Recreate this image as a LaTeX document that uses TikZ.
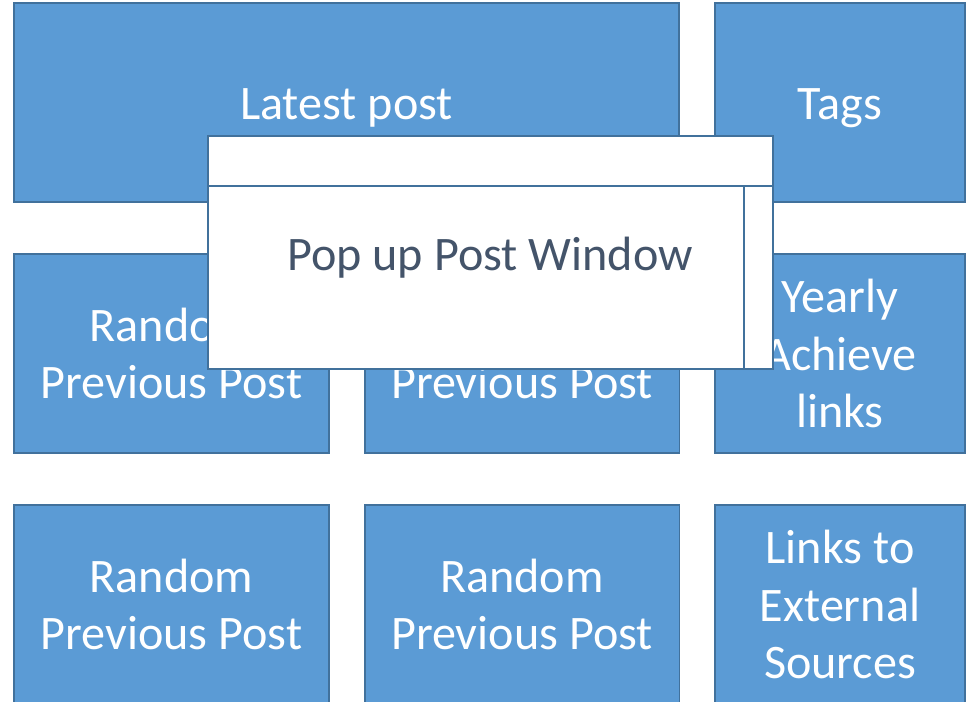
\documentclass[tikz,border=0pt]{standalone}
\usepackage{fontspec}
\setmainfont{Carlito}
\usepackage{xcolor}
\definecolor{BoxFill}{RGB}{91,155,213}
\definecolor{BoxLine}{RGB}{65,113,156}
\definecolor{PopText}{RGB}{68,84,106}
\usepackage{tikz}
\tikzstyle{Block}=[rectangle,draw=BoxLine,fill=BoxFill,line width=1.1pt,
text=white,align=center,font=\fontsize{27.4}{32.5}\selectfont]
\tikzstyle{Wide}=[Block,minimum width=13.3cm,minimum height=3.98cm]
\tikzstyle{Cell}=[Block,minimum width=6.3cm,minimum height=3.98cm]
\tikzstyle{Side}=[Block,minimum width=5cm,minimum height=3.98cm]
\tikzstyle{Popup}=[draw=BoxLine,fill=white,line width=1.1pt]

\begin{document}
\begin{tikzpicture}[x=0.02cm,y=-0.02cm]
            \clip(0,0)rectangle(967,701);
            \node[Wide,text height=0.85cm](latest)at(346.5,102.5){Latest post};
            \node[Side,text height=0.85cm](tags)at(840,102.5){Tags};
            \node[Cell](rnd1)at(171.5,353.5){Random\\Previous Post};
            \node[Cell](rnd2)at(522,353.5){Random\\Previous Post};
            \node[Side](yearly)at(840,353.5){Yearly\\Achieve\\links};
            \node[Cell](rnd3)at(171.5,604.5){Random\\Previous Post};
            \node[Cell](rnd4)at(522,604.5){Random\\Previous Post};
            \node[Side](links)at(840,604.5){Links to\\External\\Sources};
            %
            \draw[Popup](208,136)rectangle(773,369);
            \coordinate(barL)at(208,186);
            \coordinate(barR)at(773,186);
            \coordinate(scrT)at(744,186);
            \coordinate(scrB)at(744,369);
            \draw[Popup](barL)--(barR);
            \draw[Popup](scrT)--(scrB);
            \node[text=PopText,font=\fontsize{27.4}{32.5}\selectfont]
                (popup)at(490,258){Pop up Post Window};
        \end{tikzpicture}
\end{document}
